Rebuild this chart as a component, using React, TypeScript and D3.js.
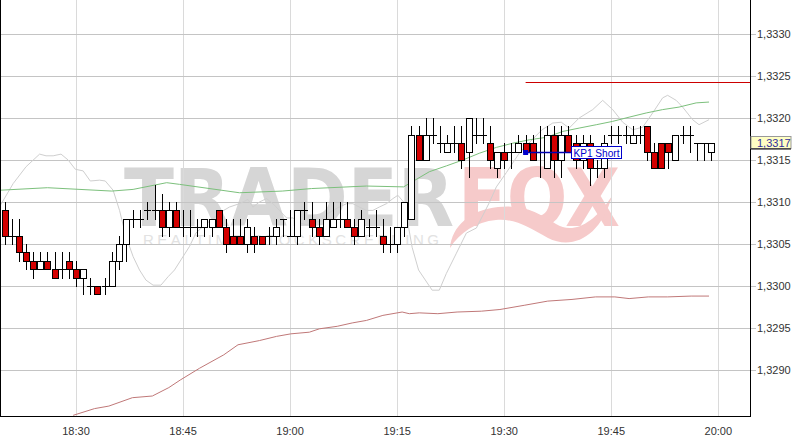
import React from "react";
import * as d3 from "d3";

// ---------- data ----------
// one-minute candles, first candle at 18:20, last at 19:59
const firstMinute = 20; // minutes after 18:00
const opens = [
  1.3309, 1.3306, 1.3306, 1.3304, 1.3303, 1.3302, 1.3303, 1.3302, 1.3302, 1.3303,
  1.3302, 1.3301, 1.33, 1.33, 1.33, 1.33, 1.3303, 1.3305, 1.3308, 1.3308,
  1.3309, 1.3309, 1.3309, 1.3307, 1.3309, 1.3307, 1.3307, 1.3307, 1.3307, 1.3307,
  1.3309, 1.3307, 1.3306, 1.3306, 1.3305, 1.3306, 1.3306, 1.3306, 1.3306, 1.3308,
  1.3306, 1.3306, 1.3309, 1.3308, 1.3307, 1.3306, 1.3307, 1.3308, 1.3308, 1.3307,
  1.3306, 1.3307, 1.3307, 1.3306, 1.3305, 1.3305, 1.3307, 1.3308, 1.3318, 1.3315,
  1.3318, 1.3317, 1.3316, 1.3317, 1.3317, 1.3316, 1.3318, 1.3318, 1.3317, 1.3314,
  1.3316, 1.3316, 1.3316, 1.3317, 1.3317, 1.3316, 1.3314, 1.3318, 1.3315, 1.3318,
  1.3317, 1.3315, 1.3317, 1.3314, 1.3314, 1.3318, 1.3318, 1.3318, 1.3317, 1.3318,
  1.3319, 1.3316, 1.3317, 1.3317, 1.3315, 1.3318, 1.3318, 1.3317, 1.3317, 1.3316,
];
const highs = [
  1.331, 1.3308, 1.3308, 1.3305, 1.3304, 1.3304, 1.3304, 1.3304, 1.3304, 1.3304,
  1.3303, 1.3302, 1.3301, 1.33, 1.3301, 1.3304, 1.3306, 1.3308, 1.3309, 1.3309,
  1.331, 1.3312, 1.3311, 1.331, 1.331, 1.3309, 1.3309, 1.3308, 1.3308, 1.3308,
  1.3309, 1.3308, 1.3308, 1.3308, 1.3308, 1.3307, 1.3306, 1.3307, 1.3308, 1.3308,
  1.3309, 1.3309, 1.331, 1.331, 1.3308, 1.331, 1.331, 1.331, 1.331, 1.3308,
  1.3309, 1.3308, 1.3309, 1.3308, 1.3307, 1.3307, 1.331, 1.3319, 1.3319, 1.332,
  1.332, 1.3319, 1.3318, 1.3319, 1.3319, 1.332, 1.332, 1.332, 1.3319, 1.3316,
  1.3317, 1.3317, 1.3318, 1.3318, 1.3318, 1.3319, 1.3319, 1.3319, 1.3319, 1.3319,
  1.3318, 1.3318, 1.3318, 1.3315, 1.3318, 1.3319, 1.3319, 1.3319, 1.3319, 1.3319,
  1.3319, 1.3317, 1.3317, 1.3317, 1.3318, 1.3319, 1.3319, 1.3317, 1.3317, 1.3317,
];
const lows = [
  1.3305, 1.3305, 1.3303, 1.3302, 1.3301, 1.3302, 1.3302, 1.3301, 1.3301, 1.3301,
  1.33, 1.3299, 1.3299, 1.3299, 1.3299, 1.33, 1.3302, 1.3303, 1.3307, 1.3307,
  1.3308, 1.3308, 1.3306, 1.3306, 1.3307, 1.3306, 1.3306, 1.3306, 1.3306, 1.3306,
  1.3307, 1.3304, 1.3305, 1.3305, 1.3304, 1.3304, 1.3305, 1.3305, 1.3305, 1.3306,
  1.3306, 1.3305, 1.3308, 1.3306, 1.3305, 1.3306, 1.3307, 1.3307, 1.3307, 1.3305,
  1.3306, 1.3306, 1.3306, 1.3304, 1.3304, 1.3304, 1.3306, 1.3308, 1.3315, 1.3315,
  1.3317, 1.3316, 1.3316, 1.3316, 1.3314, 1.3313, 1.3317, 1.3317, 1.3314, 1.3313,
  1.3314, 1.3314, 1.3316, 1.3316, 1.3315, 1.3313, 1.3314, 1.3313, 1.3313, 1.3316,
  1.3314, 1.3314, 1.3312, 1.3313, 1.3313, 1.3317, 1.3317, 1.3317, 1.3317, 1.3317,
  1.3315, 1.3314, 1.3314, 1.3314, 1.3315, 1.3317, 1.3316, 1.3315, 1.3315, 1.3315,
];
const closes = [
  1.3306, 1.3306, 1.3304, 1.3303, 1.3302, 1.3303, 1.3302, 1.3301, 1.3302, 1.3302,
  1.3301, 1.3302, 1.33, 1.3299, 1.33, 1.3303, 1.3305, 1.3308, 1.3308, 1.3308,
  1.3309, 1.3309, 1.3307, 1.3309, 1.3307, 1.3307, 1.3307, 1.3307, 1.3308, 1.3308,
  1.3307, 1.3305, 1.3305, 1.3305, 1.3307, 1.3305, 1.3305, 1.3306, 1.3307, 1.3308,
  1.3306, 1.3309, 1.3309, 1.3307, 1.3306, 1.3308, 1.3308, 1.3308, 1.3307, 1.3306,
  1.3308, 1.3307, 1.3307, 1.3305, 1.3305, 1.3307, 1.331, 1.3318, 1.3315, 1.3318,
  1.3318, 1.3317, 1.3317, 1.3317, 1.3315, 1.332, 1.3318, 1.3318, 1.3315, 1.3316,
  1.3315, 1.3316, 1.3317, 1.3316, 1.3315, 1.3316, 1.3318, 1.3315, 1.3318, 1.3316,
  1.3315, 1.3317, 1.3314, 1.3314, 1.3317, 1.3318, 1.3318, 1.3318, 1.3318, 1.3318,
  1.3316, 1.3314, 1.3314, 1.3316, 1.3318, 1.3318, 1.3318, 1.3317, 1.3317, 1.3317,
];

// indicator lines: [minutes after 18:00, price]
const greenMA: [number, number][] = [
  [19.3, 1.33114], [26, 1.33117], [35, 1.33113], [38, 1.33115], [42.7, 1.33123],
  [44.5, 1.33121], [52.9, 1.33111], [58.9, 1.33113], [63, 1.33116], [70.7, 1.33119],
  [75.9, 1.33118], [77.1, 1.33124], [79.5, 1.33136], [81.9, 1.33143], [84.2, 1.3315],
  [86.5, 1.33158], [88.9, 1.33165], [91.2, 1.3317], [93.5, 1.33174], [95.9, 1.33177],
  [98.2, 1.33184], [100.5, 1.33188], [102.9, 1.33192], [105.2, 1.33196], [107.5, 1.33201],
  [109.9, 1.33206], [112.2, 1.3321], [114.5, 1.33213], [116.9, 1.33218], [118.7, 1.33219],
];
const grayLine: [number, number][] = [
  [19.4, 1.33096], [21.2, 1.33122], [23, 1.33142], [24.9, 1.33157], [25.8, 1.33155],
  [26.8, 1.33155], [27.9, 1.33157], [28.9, 1.3315], [29.9, 1.33139], [31, 1.33137],
  [32, 1.33125], [33.3, 1.33126], [34.1, 1.33125], [35.2, 1.33114], [36.1, 1.3309],
  [37, 1.33059], [38, 1.33035], [38.9, 1.33019], [39.8, 1.33007], [40.8, 1.33001],
  [41.9, 1.33001], [42.9, 1.33011], [43.8, 1.33019], [44.7, 1.33031], [45.9, 1.33047],
  [46.8, 1.33063], [47.8, 1.33071], [49, 1.33079], [50.1, 1.33087], [51.5, 1.33094],
  [52.9, 1.33098], [54.1, 1.33103], [54.8, 1.33094], [55.7, 1.331], [56.7, 1.33104],
  [57.6, 1.33098], [58.5, 1.3309], [59.5, 1.33081], [60.4, 1.33081], [61.3, 1.33075],
  [62.3, 1.33073], [63.2, 1.33075], [64.1, 1.33077], [65.1, 1.33085], [66, 1.3309],
  [66.9, 1.33094], [67.9, 1.33098], [68.8, 1.33098], [69.7, 1.33094], [70.7, 1.3309],
  [71.6, 1.3309], [72.5, 1.33094], [73.5, 1.33098], [74.4, 1.33104], [75.1, 1.33108],
  [76, 1.33099], [77.1, 1.33046], [78, 1.33019], [79.9, 1.32995], [80.9, 1.32995],
  [81.9, 1.33015], [83.3, 1.33039], [84.7, 1.33063], [86.1, 1.33069], [87.9, 1.33099],
  [88.9, 1.33118], [90.3, 1.33135], [92.1, 1.33158], [93.9, 1.33174], [95.3, 1.33186],
  [96.8, 1.33194], [98, 1.33195], [99.1, 1.33188], [100.5, 1.332], [102.4, 1.3321],
  [103.8, 1.33221], [105.2, 1.3321], [106.6, 1.33195], [108, 1.33186], [109.4, 1.33189],
  [110.8, 1.33206], [112.2, 1.33224], [112.9, 1.33227], [114.1, 1.33221], [115, 1.33213],
  [116.4, 1.33198], [117.3, 1.33192], [118.7, 1.33198],
];
const brownMA: [number, number][] = [
  [29.6, 1.32846], [32.6, 1.32854], [34.6, 1.32857], [37.9, 1.32867], [40.7, 1.32869],
  [43, 1.32879], [44.6, 1.32888], [47.3, 1.32902], [50.7, 1.32918], [52.7, 1.3293],
  [55.7, 1.32935], [58.1, 1.3294], [60.1, 1.32943], [62.7, 1.32945], [64.1, 1.32949],
  [66.6, 1.32952], [68.7, 1.32956], [70.7, 1.32959], [73, 1.32965], [75.7, 1.32969],
  [76.7, 1.32967], [78.1, 1.32968], [80.7, 1.32967], [83.4, 1.32969], [86.8, 1.3297],
  [89.4, 1.32972], [92.8, 1.32977], [96.1, 1.32982], [99.5, 1.32984], [102.8, 1.32987],
  [105.5, 1.32987], [107.5, 1.32985], [110.2, 1.32987], [112.9, 1.32987], [116.2, 1.32988],
  [118.7, 1.32988],
];

const resistanceLevel = 1.33243;
const resistanceFrom = 93; // 19:33
const kpLabel = "KP1 Short";
const kpPrice = 1.3316;
const kpMinute = 93;
const kpLabelMinute = 99.4;
const lastPrice = 1.3317;

const xTickMinutes = [30, 45, 60, 75, 90, 105, 120];
const yTickValues = [1.329, 1.3295, 1.33, 1.3305, 1.331, 1.3315, 1.332, 1.3325, 1.333];

// ---------- helpers ----------
const BASE = new Date(2013, 5, 3, 18, 0).getTime();
const toDate = (m: number) => new Date(BASE + m * 60000);
const fmtPrice = (v: number) => d3.format(".4f")(v).replace(".", ",");
const fmtTime = d3.timeFormat("%H:%M");

const RED = "#d40000";
const FONT = "'Liberation Sans', Arial, sans-serif";

export default function App() {
  const PR = 750;
  const PB = 416;
  const x = d3.scaleTime().domain([toDate(19.35), toDate(124.44)]).range([0, PR]);
  const y = d3.scaleLinear().domain([1.328452, 1.333405]).range([PB, 0]);

  const line = d3
    .line<[number, number]>()
    .x((d) => x(toDate(d[0])))
    .y((d) => y(d[1]));

  const candles = opens.map((o, i) => ({
    t: toDate(firstMinute + i),
    o,
    h: highs[i],
    l: lows[i],
    c: closes[i],
  }));

  const px = (v: number) => Math.round(v) + 0.5;

  const kpX = x(toDate(kpMinute));
  const kpY = Math.round(y(kpPrice)) + 0.5;
  const kpLX = Math.round(x(toDate(kpLabelMinute))) + 0.5;
  const lastY = y(lastPrice);

  return (
    <svg
      width={792}
      height={439}
      style={{ position: "absolute", left: 0, top: 0, background: "#fff" }}
      fontFamily={FONT}
    >
      <defs>
        <clipPath id="plot">
          <rect x={0} y={0} width={PR} height={PB} />
        </clipPath>
      </defs>
      <rect x={0} y={0} width={792} height={439} fill="#fff" />

      {/* watermark */}
      <g>
        <text x={124} y={226} fontSize={80} fontWeight="bold" fill="#d6d6d6" textLength={330} lengthAdjust="spacingAndGlyphs" fontFamily="'DejaVu Sans', sans-serif">
          TRADER
        </text>
        <text x={458} y={226} fontSize={80} fontWeight="bold" fill="#f6caca" textLength={162} lengthAdjust="spacingAndGlyphs" fontFamily="'DejaVu Sans', sans-serif">
          FOX
        </text>
        <path
          d="M450,248 C452,226 470,210 498,207 C525,204 540,214 556,224 C572,234 592,226 612,196 C600,238 572,250 548,238 C530,228 515,218 496,220 C476,222 460,232 450,248 Z"
          fill="#f6caca"
        />
        <text x={143} y={245} fontSize={15} fill="#e2e2e2" textLength={296} lengthAdjust="spacing">
          REALTIME STOCKSCREENING
        </text>
      </g>

      {/* grid */}
      <g>
        {xTickMinutes.map((m) => (
          <line key={"vx" + m} x1={px(x(toDate(m)))} x2={px(x(toDate(m)))} y1={0} y2={PB} stroke="#dadada" />
        ))}
        {yTickValues.map((v) => (
          <line key={"hy" + v} x1={0} x2={756} y1={px(y(v))} y2={px(y(v))} stroke="#c4c4c4" />
        ))}
      </g>

      {/* indicator lines */}
      <g clipPath="url(#plot)" fill="none">
        <path d={line(grayLine) || ""} stroke="#cfcfcf" strokeWidth={1} />
        <path d={line(greenMA) || ""} stroke="#7cc07c" strokeWidth={1} />
        <path d={line(brownMA) || ""} stroke="#c07878" strokeWidth={1} />
        <line
          x1={x(toDate(resistanceFrom))}
          x2={PR}
          y1={px(y(resistanceLevel))}
          y2={px(y(resistanceLevel))}
          stroke="#cc0000"
          strokeWidth={1.2}
        />
      </g>

      {/* candles */}
      <g>
        {candles.map((d, i) => {
          const cx = Math.round(x(d.t));
          const yo = Math.round(y(d.o));
          const yc = Math.round(y(d.c));
          const yh = Math.round(y(d.h));
          const yl = Math.round(y(d.l));
          const top = Math.min(yo, yc);
          const bot = Math.max(yo, yc);
          const bear = d.c < d.o;
          return (
            <g key={i}>
              <line x1={cx + 0.5} x2={cx + 0.5} y1={yh} y2={yl + 1} stroke="#000" />
              {top === bot ? (
                <line x1={cx - 3} x2={cx + 4} y1={top + 0.5} y2={top + 0.5} stroke="#000" />
              ) : (
                <rect
                  x={cx - 2.5}
                  y={top + 0.5}
                  width={6}
                  height={bot - top}
                  fill={bear ? RED : "#fff"}
                  stroke="#000"
                />
              )}
            </g>
          );
        })}
      </g>

      {/* KP1 Short marker */}
      <g>
        <line x1={kpX} x2={kpLX} y1={kpY} y2={kpY} stroke="#0000b0" strokeWidth={1.5} />
        <rect x={kpX - 2.5} y={kpY - 2.5} width={5} height={5} fill="#0000cc" />
        <rect x={kpLX} y={kpY - 6} width={50} height={12} fill="#fff" stroke="#0000cc" />
        <text x={kpLX + 2} y={kpY + 4} fontSize={10.5} fill="#0000cc" textLength={46} lengthAdjust="spacingAndGlyphs">
          {kpLabel}
        </text>
      </g>

      {/* frame */}
      <line x1={0.5} x2={0.5} y1={0} y2={PB + 1} stroke="#000" />
      <line x1={0} x2={PR + 1} y1={PB + 0.5} y2={PB + 0.5} stroke="#000" />
      <line x1={PR + 0.5} x2={PR + 0.5} y1={0} y2={PB + 1} stroke="#000" />

      {/* y axis labels */}
      <g fontSize={11} fill="#333">
        {yTickValues.map((v) => (
          <text key={"yl" + v} x={757} y={y(v) + 4}>
            {fmtPrice(v)}
          </text>
        ))}
      </g>

      {/* last price box */}
      <g>
        <rect x={751} y={Math.round(lastY) - 6.5} width={40} height={12} fill="#ffffc4" stroke="#999" />
        <line x1={751} x2={791} y1={Math.round(lastY) + 6} y2={Math.round(lastY) + 6} stroke="#000" />
        <text x={757} y={lastY + 4} fontSize={11} fill="#3030a0">
          {fmtPrice(lastPrice)}
        </text>
      </g>

      {/* x axis labels */}
      <g fontSize={11} fill="#333" textAnchor="middle">
        {xTickMinutes.map((m) => (
          <text key={"xl" + m} x={x(toDate(m))} y={435}>
            {fmtTime(toDate(m))}
          </text>
        ))}
      </g>
    </svg>
  );
}
